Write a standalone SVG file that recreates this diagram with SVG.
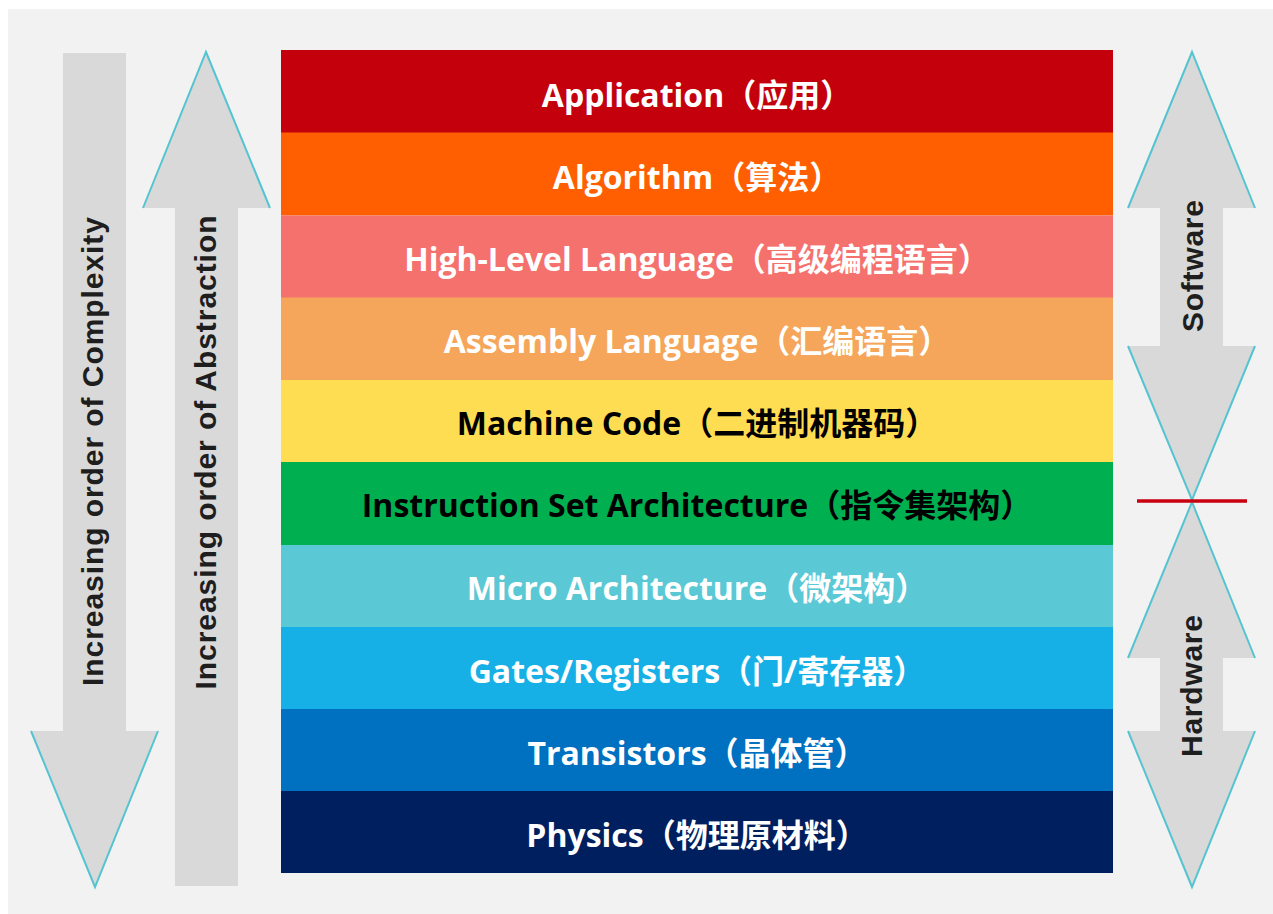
<svg xmlns="http://www.w3.org/2000/svg" width="1273" height="914" viewBox="0 0 1273 914">
<style>
.layer-text{font-family:"Open Sans","Noto Sans CJK SC",sans-serif;font-weight:700;font-size:32px;text-anchor:middle}
.w{fill:#ffffff}
.k{fill:#000000}
.side{font-family:"Liberation Sans",Arial,sans-serif;font-weight:700;font-size:30px;fill:#1e1e1e;text-anchor:middle}
.afill{fill:#d9d9d9}
.aline{fill:none;stroke:#55c4d1;stroke-width:2;stroke-linejoin:miter}
</style>
<rect x="0" y="0" width="1273" height="914" fill="#ffffff"/>
<rect x="8" y="9" width="1265" height="905" fill="#f2f2f2"/>

<g id="arrow-complexity">
<rect class="afill" x="63" y="53" width="63" height="679"/>
<polygon class="afill" points="31,731 158,731 95,887"/>
<polyline class="aline" points="31,731 95,887 158,731"/>
<text class="side" transform="translate(103,451.5) rotate(-90)" textLength="469" lengthAdjust="spacing">Increasing order of Complexity</text>
</g>

<g id="arrow-abstraction">
<polygon class="afill" points="143,208 270,208 206,52"/>
<rect class="afill" x="175" y="207" width="63" height="679"/>
<polyline class="aline" points="143,208 206,52 270,208"/>
<text class="side" transform="translate(215.5,452.5) rotate(-90)" textLength="474" lengthAdjust="spacing">Increasing order of Abstraction</text>
</g>

<g id="arrow-software">
<polygon class="afill" points="1128,208 1255,208 1192,52"/>
<rect class="afill" x="1160" y="207" width="63" height="140"/>
<polygon class="afill" points="1128,346 1255,346 1192,500"/>
<polyline class="aline" points="1128,208 1192,52 1255,208"/>
<polyline class="aline" points="1128,346 1192,500 1255,346"/>
<text class="side" transform="translate(1203,266) rotate(-90)" textLength="132" lengthAdjust="spacing">Software</text>
</g>

<g id="arrow-hardware">
<polygon class="afill" points="1128,658 1255,658 1192,502"/>
<rect class="afill" x="1160" y="657" width="63" height="75"/>
<polygon class="afill" points="1128,731 1255,731 1192,887"/>
<polyline class="aline" points="1128,658 1192,502 1255,658"/>
<polyline class="aline" points="1128,731 1192,887 1255,731"/>
<text class="side" transform="translate(1202,686) rotate(-90)" textLength="142" lengthAdjust="spacing">Hardware</text>
</g>

<g id="divider">
<line x1="1137" y1="501" x2="1247" y2="501" stroke="#c8000f" stroke-width="3.5"/>
</g>

<g id="layer-application">
<rect x="281" y="50" width="832" height="83" fill="#c4000c"/>
<text class="layer-text w" x="697" y="107">Application（应用）</text>
</g>
<g id="layer-algorithm">
<rect x="281" y="132.5" width="832" height="83" fill="#ff5f00"/>
<text class="layer-text w" x="697" y="189">Algorithm（算法）</text>
</g>
<g id="layer-hll">
<rect x="281" y="215.5" width="832" height="83" fill="#f4716d"/>
<text class="layer-text w" x="697" y="271">High-Level Language（高级编程语言）</text>
</g>
<g id="layer-assembly">
<rect x="281" y="297.5" width="832" height="83" fill="#f5a65b"/>
<text class="layer-text w" x="697" y="353">Assembly Language（汇编语言）</text>
</g>
<g id="layer-machine">
<rect x="281" y="380" width="832" height="82.5" fill="#ffdd52"/>
<text class="layer-text k" x="697" y="435">Machine Code（二进制机器码）</text>
</g>
<g id="layer-isa">
<rect x="281" y="462" width="832" height="83.5" fill="#00b050"/>
<text class="layer-text k" x="697" y="517">Instruction Set Architecture（指令集架构）</text>
</g>
<g id="layer-micro">
<rect x="281" y="545" width="832" height="82.5" fill="#5bc8d5"/>
<text class="layer-text w" x="697" y="600">Micro Architecture（微架构）</text>
</g>
<g id="layer-gates">
<rect x="281" y="627" width="832" height="82.5" fill="#17b0e6"/>
<text class="layer-text w" x="697" y="683">Gates/Registers（门/寄存器）</text>
</g>
<g id="layer-transistors">
<rect x="281" y="709" width="832" height="82.5" fill="#0070c0"/>
<text class="layer-text w" x="697" y="765">Transistors（晶体管）</text>
</g>
<g id="layer-physics">
<rect x="281" y="791" width="832" height="82" fill="#001f5f"/>
<text class="layer-text w" x="697" y="847">Physics（物理原材料）</text>
</g>
<g id="connectors"></g>
</svg>
